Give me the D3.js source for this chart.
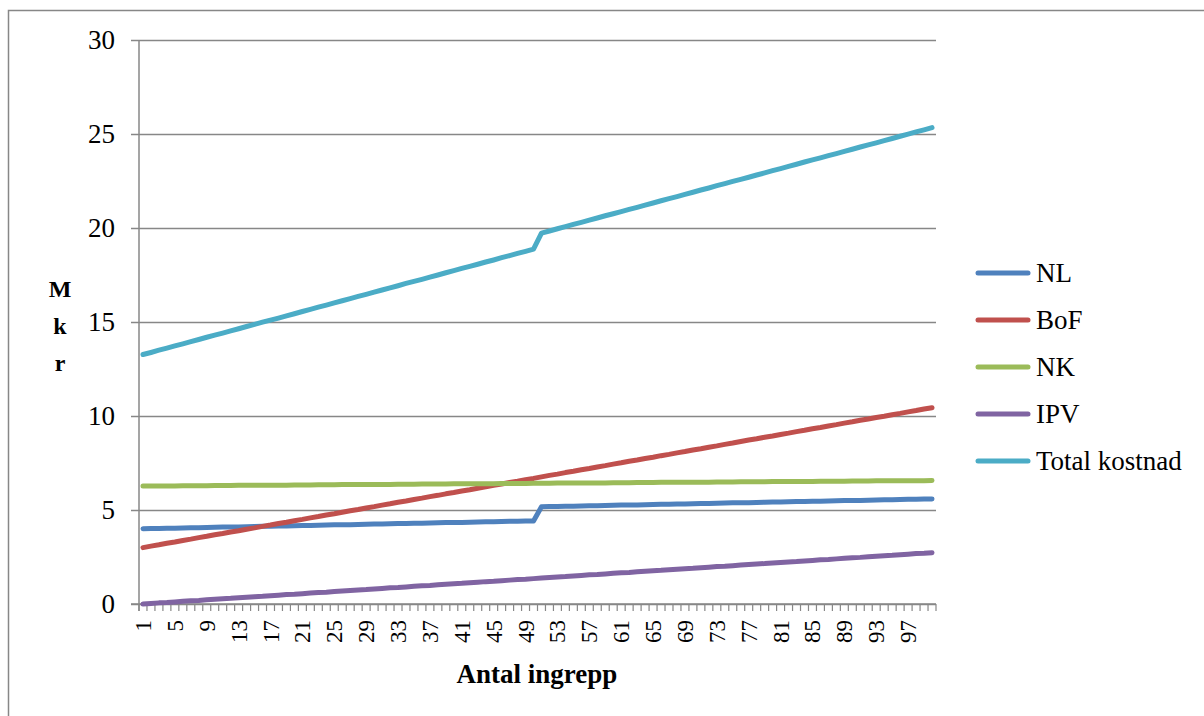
<!DOCTYPE html>
<html>
<head>
<meta charset="utf-8">
<script src="https://cdn.jsdelivr.net/npm/d3@7"></script>
<style>
  html, body { margin: 0; padding: 0; background: #fff; }
  svg { display: block; }
  text { font-family: "Liberation Serif", "DejaVu Serif", serif; fill: #000; }
</style>
</head>
<body>
<svg id="chart" width="1204" height="716"></svg>
<script>
// Number of procedures (x categories)
const categories = d3.range(1, 101);

// Cost per series, Mkr
const NL = [
  4.00,4.01,4.02,4.03,4.03,4.04,4.05,4.06,4.07,4.08,
  4.09,4.09,4.10,4.11,4.12,4.13,4.14,4.15,4.15,4.16,
  4.17,4.18,4.19,4.20,4.21,4.22,4.22,4.23,4.24,4.25,
  4.26,4.27,4.28,4.28,4.29,4.30,4.31,4.32,4.33,4.34,
  4.34,4.35,4.36,4.37,4.38,4.39,4.40,4.40,4.41,4.42,
  5.17,5.18,5.19,5.20,5.20,5.21,5.22,5.23,5.24,5.25,
  5.26,5.26,5.27,5.28,5.29,5.30,5.31,5.32,5.32,5.33,
  5.34,5.35,5.36,5.37,5.38,5.39,5.39,5.40,5.41,5.42,
  5.43,5.44,5.45,5.45,5.46,5.47,5.48,5.49,5.50,5.51,
  5.51,5.52,5.53,5.54,5.55,5.56,5.57,5.57,5.58,5.59
];
const BoF = [
  3.00,3.08,3.15,3.23,3.30,3.38,3.45,3.53,3.60,3.68,
  3.75,3.83,3.90,3.98,4.05,4.13,4.20,4.28,4.35,4.43,
  4.50,4.58,4.65,4.73,4.80,4.88,4.96,5.03,5.11,5.18,
  5.26,5.33,5.41,5.48,5.56,5.63,5.71,5.78,5.86,5.93,
  6.01,6.08,6.16,6.23,6.31,6.38,6.46,6.53,6.61,6.68,
  6.76,6.84,6.91,6.99,7.06,7.14,7.21,7.29,7.36,7.44,
  7.51,7.59,7.66,7.74,7.81,7.89,7.96,8.04,8.11,8.19,
  8.26,8.34,8.41,8.49,8.56,8.64,8.72,8.79,8.87,8.94,
  9.02,9.09,9.17,9.24,9.32,9.39,9.47,9.54,9.62,9.69,
  9.77,9.84,9.92,9.99,10.07,10.14,10.22,10.29,10.37,10.44
];
const NK = [
  6.27,6.27,6.28,6.28,6.28,6.29,6.29,6.29,6.29,6.30,
  6.30,6.30,6.31,6.31,6.31,6.32,6.32,6.32,6.32,6.33,
  6.33,6.33,6.34,6.34,6.34,6.35,6.35,6.35,6.35,6.36,
  6.36,6.36,6.37,6.37,6.37,6.38,6.38,6.38,6.38,6.39,
  6.39,6.39,6.40,6.40,6.40,6.41,6.41,6.41,6.41,6.42,
  6.42,6.42,6.43,6.43,6.43,6.44,6.44,6.44,6.44,6.45,
  6.45,6.45,6.46,6.46,6.46,6.47,6.47,6.47,6.47,6.48,
  6.48,6.48,6.49,6.49,6.49,6.50,6.50,6.50,6.50,6.51,
  6.51,6.51,6.52,6.52,6.52,6.53,6.53,6.53,6.53,6.54,
  6.54,6.54,6.55,6.55,6.55,6.56,6.56,6.56,6.56,6.57
];
const IPV = [
  0.00,0.03,0.06,0.08,0.11,0.14,0.17,0.19,0.22,0.25,
  0.28,0.30,0.33,0.36,0.39,0.41,0.44,0.47,0.50,0.52,
  0.55,0.58,0.61,0.63,0.66,0.69,0.72,0.75,0.77,0.80,
  0.83,0.86,0.88,0.91,0.94,0.97,0.99,1.02,1.05,1.08,
  1.10,1.13,1.16,1.19,1.21,1.24,1.27,1.30,1.32,1.35,
  1.38,1.41,1.44,1.46,1.49,1.52,1.55,1.57,1.60,1.63,
  1.66,1.68,1.71,1.74,1.77,1.79,1.82,1.85,1.88,1.90,
  1.93,1.96,1.99,2.01,2.04,2.07,2.10,2.13,2.15,2.18,
  2.21,2.24,2.26,2.29,2.32,2.35,2.37,2.40,2.43,2.46,
  2.48,2.51,2.54,2.57,2.59,2.62,2.65,2.68,2.70,2.73
];
const Total = [
  13.27,13.38,13.50,13.61,13.73,13.84,13.96,14.07,14.19,14.30,
  14.41,14.53,14.64,14.76,14.87,14.99,15.10,15.21,15.33,15.44,
  15.56,15.67,15.79,15.90,16.02,16.13,16.24,16.36,16.47,16.59,
  16.70,16.82,16.93,17.05,17.16,17.27,17.39,17.50,17.62,17.73,
  17.85,17.96,18.07,18.19,18.30,18.42,18.53,18.65,18.76,18.88,
  19.73,19.84,19.96,20.07,20.19,20.30,20.42,20.53,20.65,20.76,
  20.87,20.99,21.10,21.22,21.33,21.45,21.56,21.67,21.79,21.90,
  22.02,22.13,22.25,22.36,22.48,22.59,22.70,22.82,22.93,23.05,
  23.16,23.28,23.39,23.51,23.62,23.73,23.85,23.96,24.08,24.19,
  24.31,24.42,24.53,24.65,24.76,24.88,24.99,25.11,25.22,25.34
];

const seriesNames = ["NL", "BoF", "NK", "IPV", "Total kostnad"];
const seriesValues = [NL, BoF, NK, IPV, Total];
const seriesColors = ["#4F81BD", "#C0504D", "#9BBB59", "#8064A2", "#4BACC6"];

const yTicks = [0, 5, 10, 15, 20, 25, 30];
const xLabelStep = 4;
const xTitle = "Antal ingrepp";
const yTitle = ["M", "k", "r"];

const svg = d3.select("#chart");
const gridColor = "#878787";

// outer frame
svg.append("rect")
  .attr("x", 8.5).attr("y", 10.5)
  .attr("width", 1260).attr("height", 760)
  .attr("fill", "none").attr("stroke", gridColor).attr("stroke-width", 1.5);

const plot = { left: 139, right: 936, top: 40, bottom: 604 };

const x = d3.scaleBand().domain(categories).range([plot.left, plot.right]).padding(0);
const y = d3.scaleLinear().domain([0, 30]).range([plot.bottom, plot.top]);

// horizontal gridlines with left tick stubs
const yAxis = d3.axisLeft(y).tickValues(yTicks).tickSize(plot.right - plot.left + 8).tickPadding(16).tickFormat(d3.format("d"));
const gy = svg.append("g").attr("transform", `translate(${plot.right},0)`).call(yAxis);
gy.select(".domain").remove();
gy.selectAll(".tick line").attr("stroke", gridColor).attr("stroke-width", 1.5);
gy.selectAll(".tick text")
  .attr("font-family", "Liberation Serif, serif")
  .attr("font-size", 27).attr("fill", "#000");

// vertical axis line
svg.append("line")
  .attr("x1", plot.left).attr("x2", plot.left)
  .attr("y1", plot.top).attr("y2", plot.bottom + 7)
  .attr("stroke", gridColor).attr("stroke-width", 1.5);

// category axis: tick marks at band boundaries
const xTickPos = categories.map(c => x(c)).concat([x(categories[categories.length - 1]) + x.bandwidth()]);
svg.append("g").selectAll("line").data(xTickPos).join("line")
  .attr("x1", d => d).attr("x2", d => d)
  .attr("y1", plot.bottom).attr("y2", plot.bottom + 7)
  .attr("stroke", gridColor).attr("stroke-width", 1.2);
svg.append("line")
  .attr("x1", plot.left - 8).attr("x2", plot.right)
  .attr("y1", plot.bottom).attr("y2", plot.bottom)
  .attr("stroke", gridColor).attr("stroke-width", 1.5);

// rotated category labels
const labelCats = categories.filter((c, i) => i % xLabelStep === 0);
svg.append("g").selectAll("text").data(labelCats).join("text")
  .attr("transform", d => `translate(${x(d) + x.bandwidth() / 2 + 8},${plot.bottom + 16}) rotate(-90)`)
  .attr("text-anchor", "end")
  .attr("font-size", 23)
  .text(d => d);

// series lines
const line = d3.line()
  .x((d, i) => x(categories[i]) + x.bandwidth() / 2)
  .y(d => y(d));

svg.append("g").selectAll("path").data(seriesValues).join("path")
  .attr("d", d => line(d))
  .attr("fill", "none")
  .attr("stroke", (d, i) => seriesColors[i])
  .attr("stroke-width", 5)
  .attr("stroke-linejoin", "round")
  .attr("stroke-linecap", "round");

// axis titles
svg.append("text")
  .attr("x", 537).attr("y", 683)
  .attr("text-anchor", "middle")
  .attr("font-size", 27).attr("font-weight", "bold")
  .text(xTitle);

svg.append("g").selectAll("text").data(yTitle).join("text")
  .attr("x", 60).attr("y", (d, i) => 297 + i * 37)
  .attr("text-anchor", "middle")
  .attr("font-size", 24).attr("font-weight", "bold")
  .text(d => d);

// legend
const legend = svg.append("g").selectAll("g").data(seriesNames).join("g")
  .attr("transform", (d, i) => `translate(976,${273 + i * 47})`);
legend.append("line")
  .attr("x1", 2).attr("x2", 52).attr("y1", 0).attr("y2", 0)
  .attr("stroke", (d, i) => seriesColors[i])
  .attr("stroke-width", 5).attr("stroke-linecap", "round");
legend.append("text")
  .attr("x", 60).attr("y", 9)
  .attr("font-size", 27)
  .text(d => d);
</script>
</body>
</html>
